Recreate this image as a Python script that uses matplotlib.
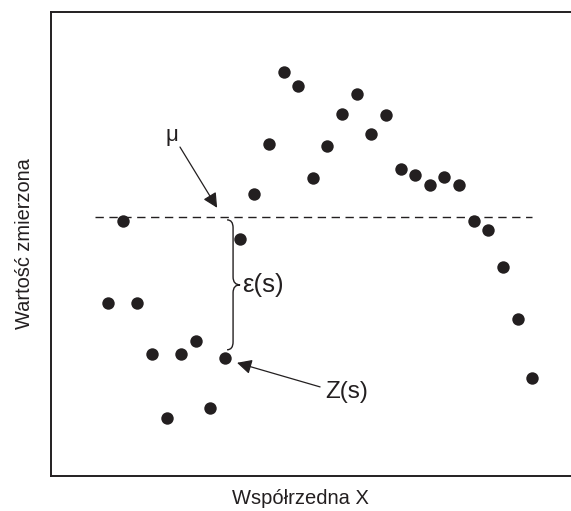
import matplotlib.pyplot as plt
from matplotlib.path import Path
from matplotlib.patches import PathPatch

plt.rcParams['font.family'] = ['Liberation Sans', 'DejaVu Sans']

# measured values (x = sample index, y = measured value)
xs = list(range(1, 31))
ys = [3.73, 5.50, 3.73, 2.63, 1.25, 2.63, 2.91, 1.47, 2.54, 5.11,
      6.08, 7.16, 8.71, 8.41, 6.42, 7.11, 7.80, 8.23, 7.37, 7.78,
      6.62, 6.49, 6.27, 6.44, 6.27, 5.50, 5.30, 4.50, 3.38, 2.11]
mu = 5.58

ink = '#231f20'

fig = plt.figure(figsize=(5.71, 5.11), dpi=100)
ax = fig.add_axes([51 / 571, 35 / 511, 525 / 571, 464 / 511])
ax.set_xlim(-2.9, 33.0)
ax.set_ylim(0, 10)
ax.set_xticks([])
ax.set_yticks([])
for s in ax.spines.values():
    s.set_linewidth(1.4)
    s.set_color(ink)

ax.scatter(xs, ys, s=80, color=ink, zorder=3, linewidths=0)
ax.hlines(mu, 0.11, 30.0, colors=ink, linestyles=(0, (6, 4)), lw=1)

# mu arrow
ax.text(5.38, 7.33, 'μ', fontsize=16, color=ink, ha='center', va='center')
ax.annotate('', xy=(8.46, 5.78), xytext=(5.92, 7.09),
            arrowprops=dict(arrowstyle='-|>', color=ink, lw=0.9,
                            mutation_scale=22, shrinkA=0, shrinkB=0))

# brace for epsilon
x0, xm, xt = 9.14, 9.55, 10.03
yt, yb = 5.52, 2.72
ymid = (yt + yb) / 2
d = 0.17
verts = [(x0, yt), (xm, yt), (xm, yt - d),
         (xm, ymid + d), (xm, ymid), (xt, ymid),
         (xm, ymid), (xm, ymid - d),
         (xm, yb + d), (xm, yb), (x0, yb)]
codes = [Path.MOVETO, Path.CURVE3, Path.CURVE3,
         Path.LINETO, Path.CURVE3, Path.CURVE3,
         Path.CURVE3, Path.CURVE3,
         Path.LINETO, Path.CURVE3, Path.CURVE3]
ax.add_patch(PathPatch(Path(verts, codes), fill=False, lw=1, color=ink))
ax.text(10.2, ymid, 'ε(s)', fontsize=18.5, color=ink, ha='left', va='center')

# Z(s) arrow
ax.annotate('', xy=(9.82, 2.44), xytext=(15.5, 1.92),
            arrowprops=dict(arrowstyle='-|>', color=ink, lw=0.9,
                            mutation_scale=22, shrinkA=0, shrinkB=0))
ax.text(15.84, 1.81, 'Z(s)', fontsize=17.5, color=ink, ha='left', va='center')

ax.set_xlabel('Współrzedna X', fontsize=14.5, color=ink)
ax.xaxis.set_label_coords((300 - 51) / 525, -0.028, transform=ax.transAxes)
ax.xaxis.label.set_va('top')
ax.set_ylabel('Wartość zmierzona', fontsize=14.4, color=ink, labelpad=12)

fig.savefig('out.png', dpi=100)
